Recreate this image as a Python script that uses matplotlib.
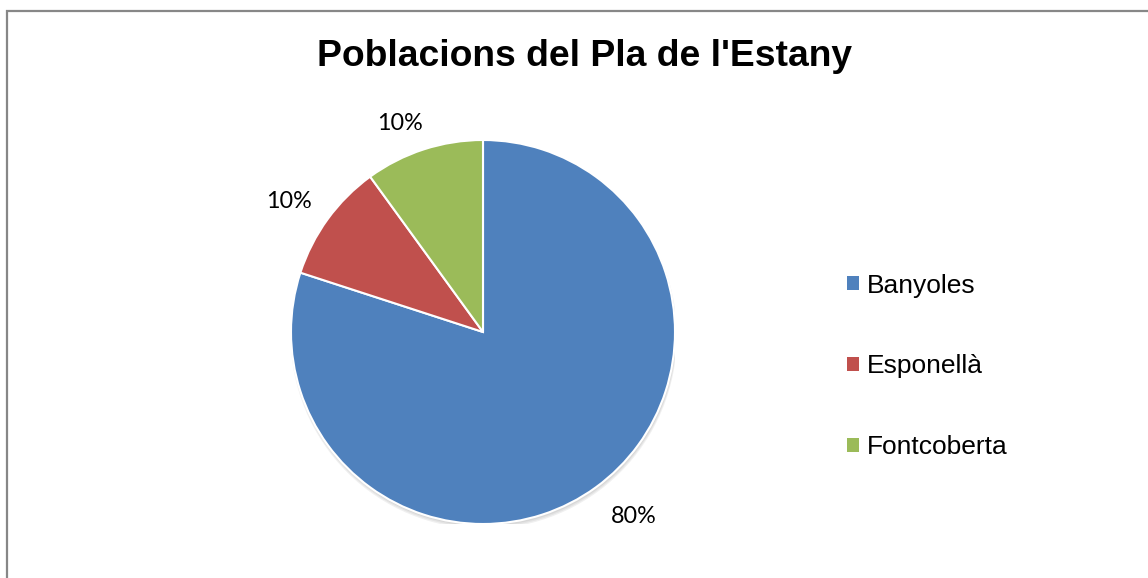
import matplotlib
matplotlib.use("Agg")
import numpy as np
import matplotlib.pyplot as plt
from matplotlib.patches import Rectangle, Circle

categories = ["Banyoles", "Esponellà", "Fontcoberta"]
values = [80, 10, 10]
colors = ["#4F81BD", "#C0504D", "#9BBB59"]
title = "Poblacions del Pla de l'Estany"

W, H = 1148, 578
fig = plt.figure(figsize=(W / 100, H / 100), dpi=100)
fig.patch.set_facecolor("white")

# outer chart border (extends past right/bottom edges)
fig.patches.append(Rectangle((6.5 / W, -0.1), 1.2, 1.1 - 11.5 / H,
                             transform=fig.transFigure, fill=False,
                             edgecolor="#878787", linewidth=1.6, clip_on=False))

cx, cy, r = 483, 332, 192
ax = fig.add_axes([(cx - r) / W, (H - cy - r) / H, 2 * r / W, 2 * r / H])
ax.set_xlim(-1, 1)
ax.set_ylim(-1, 1)
ax.set_aspect("equal")
ax.axis("off")

# soft shadow
for i, a in enumerate([0.05, 0.05, 0.06]):
    ax.add_patch(Circle((0.004, -0.012 - i * 0.004), 1.0 + i * 0.003,
                        facecolor="#000000", alpha=a, edgecolor="none", zorder=0))

wedges, texts, autotexts = ax.pie(
    values, colors=colors, startangle=90, counterclock=False, radius=1.0,
    autopct="%1.0f%%", pctdistance=1.21,
    wedgeprops=dict(edgecolor="white", linewidth=1.5),
    textprops=dict(fontsize=16.8, family=["Lato", "DejaVu Sans"], color="black"))
for w in wedges:
    w.set_zorder(2)

# label placement (angle offset from wedge middle, radial distance)
label_place = [(3.2, 1.24), (2.0, 1.22), (3.7, 1.17)]
for w, t, (dth, dist) in zip(wedges, autotexts, label_place):
    th = np.deg2rad((w.theta1 + w.theta2) / 2 + dth)
    t.set_position((dist * np.cos(th), dist * np.sin(th)))
    t.set_ha("center")
    t.set_va("center")
ax.set_xlim(-1, 1)
ax.set_ylim(-1, 1)

fig.text(585 / W, 1 - 56 / H, title, ha="center", va="center",
         fontsize=26.8, fontweight="bold", family=["Liberation Sans", "DejaVu Sans"])

leg = fig.legend(wedges, categories, loc="upper left",
                 bbox_to_anchor=(823 / W, 1 - 250 / H),
                 frameon=False, handlelength=0.45, handleheight=0.45,
                 handletextpad=0.3, labelspacing=2.15,
                 prop=dict(family=["Liberation Sans", "DejaVu Sans"], size=19))
for h in leg.legend_handles:
    h.set_edgecolor("none")

fig.savefig("out.png", dpi=100, facecolor="white")
